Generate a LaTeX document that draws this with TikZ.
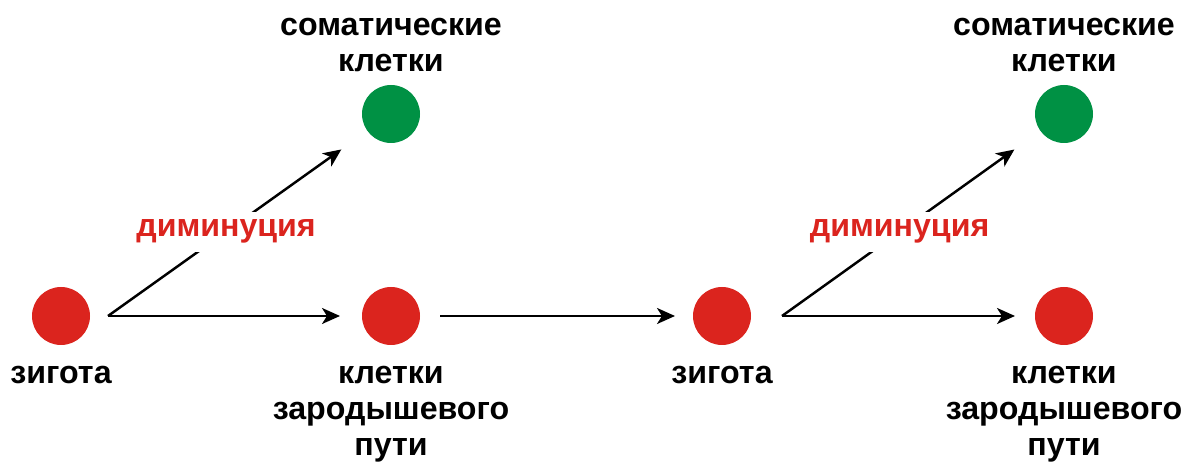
\documentclass[tikz,border=0pt]{standalone}
\usepackage{fontspec}
\setmainfont{Liberation Sans}
\usepackage{tikz}
\usetikzlibrary{positioning,arrows.meta}

\definecolor{cellred}{RGB}{219,36,30}
\definecolor{cellgreen}{RGB}{0,145,68}

\tikzset{
    cell/.style={circle, inner sep=0pt, outer sep=0pt, minimum size=1.16cm},
    lbl/.style={inner sep=0pt, align=center, font=\fontsize{18.3}{20.4}\selectfont\bfseries},
    dimlbl/.style={lbl, text=cellred, fill=white, inner sep=0.16cm},
    arr/.style={-{Stealth[length=3.6mm,width=3.2mm,inset=1mm]}, line width=1.4pt}
}

\begin{document}
\begin{tikzpicture}
    \useasboundingbox (0,0) rectangle (23.8,9.24);

    % the cells
    \node[cell, fill=cellred] (z1) at (1.22,2.92) {};
    \node[cell, fill=cellred] (g1) at (7.82,2.92) {};
    \node[cell, fill=cellgreen] (s1) at (7.82,6.96) {};
    \node[cell, fill=cellred] (z2) at (14.44,2.92) {};
    \node[cell, fill=cellred] (g2) at (21.28,2.92) {};
    \node[cell, fill=cellgreen] (s2) at (21.28,6.96) {};

    % the texts
    \node[lbl, below=0.42cm of z1] (lz1) {зигота};
    \node[lbl, below=0.42cm of g1] (lg1) {клетки\\зародышевого\\пути};
    \node[lbl, above=0.26cm of s1] (ls1) {соматические\\клетки};
    \node[lbl, below=0.42cm of z2] (lz2) {зигота};
    \node[lbl, below=0.42cm of g2] (lg2) {клетки\\зародышевого\\пути};
    \node[lbl, above=0.26cm of s2] (ls2) {соматические\\клетки};

    % the branching points next to the zygotes
    \coordinate (b1) at (2.16,2.92);
    \coordinate (b2) at (15.64,2.92);

    % draw the arrows
    \draw[arr, shorten >=0.44cm] (b1) -- (g1);
    \draw[arr, shorten >=0.64cm] (b1) -- node[dimlbl, pos=0.455] (d1) {диминуция} (s1);
    \draw[arr, shorten <=0.4cm, shorten >=0.36cm] (g1) -- (z2);
    \draw[arr, shorten >=0.4cm] (b2) -- (g2);
    \draw[arr, shorten >=0.64cm] (b2) -- node[dimlbl, pos=0.455] (d2) {диминуция} (s2);

\end{tikzpicture}
\end{document}
